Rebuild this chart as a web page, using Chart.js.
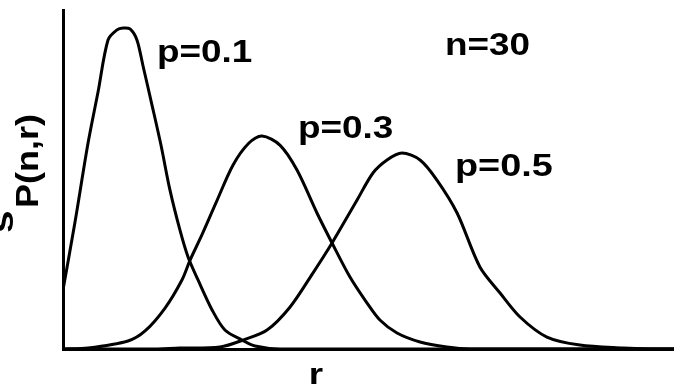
<!DOCTYPE html>
<html>
<head>
<meta charset="utf-8">
<script src="https://cdn.jsdelivr.net/npm/chart.js@4.4.1/dist/chart.umd.min.js"></script>
<style>
  html, body { margin: 0; padding: 0; background: #fff; }
  #wrap { width: 674px; height: 387px; }
</style>
</head>
<body>
<div id="wrap"><canvas id="grafico" width="674" height="387"></canvas></div>
<script>
// Valores (r, P(n,r)), n = 30
const r01 = [0, 0.59, 1.23, 1.72, 2.21, 2.65, 2.95, 3.29, 3.63, 3.93, 4.37, 4.81, 5.25, 5.74, 6.14, 6.63, 7.32, 7.95, 8.79, 9.43, 10.65, 30];
const p01 = [0.0435, 0.0937, 0.1519, 0.1895, 0.2279, 0.2353, 0.2367, 0.2360, 0.2279, 0.2087, 0.1799, 0.1504, 0.1173, 0.0878, 0.0678, 0.0509, 0.0288, 0.0140, 0.0066, 0.0022, 0, 0];

const r03 = [0, 1.23, 3.19, 4.03, 5.01, 5.84, 6.24, 6.82, 7.51, 8.35, 9.13, 9.77, 10.65, 11.49, 12.47, 13.21, 14.09, 14.93, 15.56, 16.40, 17.53, 18.85, 19.98, 30];
const p03 = [0, 0.0007, 0.0059, 0.0133, 0.0302, 0.0509, 0.0656, 0.0841, 0.1077, 0.1357, 0.1519, 0.1571, 0.1504, 0.1320, 0.1003, 0.0782, 0.0531, 0.0339, 0.0214, 0.0118, 0.0052, 0.0015, 0, 0];

const r05 = [0, 4.27, 5.74, 7.71, 8.84, 10.02, 11.15, 12.27, 13.21, 14.44, 15.22, 15.91, 16.64, 17.53, 18.36, 19.35, 20.47, 21.46, 22.44, 23.76, 25.38, 27.50, 28.82, 30];
const p05 = [0, 0, 0.0007, 0.0015, 0.0066, 0.0140, 0.0310, 0.0560, 0.0782, 0.1099, 0.1298, 0.1394, 0.1445, 0.1394, 0.1246, 0.1003, 0.0605, 0.0413, 0.0236, 0.0088, 0.0029, 0.0007, 0, 0];

// Textos
const etiquetas = ['p=0.1', 'n=30', 'p=0.3', 'p=0.5'];
const tituloX = 'r';
const tituloY = ['s', 'P(n,r)'];

const puntos = (xs, ys) => xs.map((x, i) => ({ x: x, y: ys[i] }));

const serie = (xs, ys) => ({
    data: puntos(xs, ys),
    borderColor: '#000',
    borderWidth: 3,
    pointRadius: 0,
    fill: false,
    tension: 0.3
});

const datos = {
    datasets: [serie(r01, p01), serie(r03, p03), serie(r05, p05)]
};

// Texto en negrita ensanchado, como en el original
const texto = (ctx, t, x, y, size, sx, rot) => {
    ctx.save();
    ctx.translate(x, y);
    if (rot) ctx.rotate(rot);
    ctx.scale(sx, 1);
    ctx.font = 'bold ' + size + 'px "Liberation Sans", Arial, sans-serif';
    ctx.fillStyle = '#000';
    ctx.textBaseline = 'alphabetic';
    ctx.fillText(t, 0, 0);
    ctx.restore();
};

const rotulos = {
    id: 'rotulos',
    afterDraw(chart) {
        const ctx = chart.ctx;
        const a = chart.chartArea;
        texto(ctx, etiquetas[0], a.left + 94, a.top + 52, 31, 1.19);
        texto(ctx, etiquetas[1], a.left + 382, a.top + 45, 31, 1.19);
        texto(ctx, etiquetas[2], a.left + 235, a.top + 128, 31, 1.19);
        texto(ctx, etiquetas[3], a.left + 392, a.top + 166, 31, 1.22);

        // título eje x
        ctx.save();
        ctx.font = 'bold 29px "Liberation Sans", Arial, sans-serif';
        const w = ctx.measureText(tituloX).width * 1.27;
        ctx.restore();
        texto(ctx, tituloX, 316 - w / 2, a.bottom + 35, 29, 1.27);

        // título eje y (rotado)
        texto(ctx, tituloY[0], 13, 233, 34, 1.2, -Math.PI / 2);
        texto(ctx, tituloY[1], 38, 208, 31, 1.16, -Math.PI / 2);
    }
};

const opciones = {
    responsive: false,
    animation: false,
    layout: { padding: { left: 63, top: 10, right: 0, bottom: 38 } },
    scales: {
        x: {
            type: 'linear',
            min: 0,
            max: 30,
            grid: { display: false },
            ticks: { display: false },
            border: { display: true, color: '#000', width: 3 },
            afterFit: (s) => { s.height = 0; }
        },
        y: {
            min: 0,
            max: 0.25,
            grid: { display: false },
            ticks: { display: false },
            border: { display: true, color: '#000', width: 3 },
            afterFit: (s) => { s.width = 0; }
        }
    },
    plugins: {
        legend: { display: false },
        tooltip: { enabled: false }
    }
};

const ctx = document.getElementById('grafico').getContext('2d');
const miGrafico = new Chart(ctx, { type: 'line', data: datos, options: opciones, plugins: [rotulos] });
</script>
</body>
</html>
